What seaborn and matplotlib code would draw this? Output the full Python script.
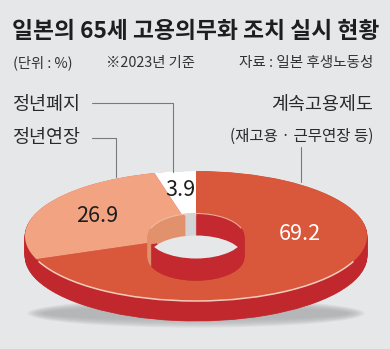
import matplotlib
matplotlib.use("Agg")
import matplotlib.pyplot as plt
from matplotlib.patches import Ellipse, Arc, Circle
import seaborn as sns

# ---- data -------------------------------------------------------------
categories = ["계속고용제도", "정년연장", "정년폐지"]
shares = [69.2, 26.9, 3.9]
value_labels = [f"{v:.1f}" for v in shares]

title = "일본의 65세 고용의무화 조치 실시 현황"
unit_note = "(단위 : %)"
base_note = "※2023년 기준"
source_note = "자료 : 일본 후생노동성"
sub_note = "(재고용 · 근무연장 등)"

# ---- style ------------------------------------------------------------
BG = "#e6e7e9"
face_colors = sns.color_palette(["#d9583b", "#f2a381", "#ffffff"])
wall_colors = sns.color_palette(["#c4292f", "#e2916d", "#d3d4d6"])
side_red = "#c1282e"

sns.set_theme(style="white", rc={"figure.facecolor": BG, "axes.facecolor": BG})
plt.rcParams["font.family"] = ["Noto Sans CJK KR", "DejaVu Sans"]

W, H = 390, 349
fig = plt.figure(figsize=(W / 100, H / 100), dpi=100)

# ---- donut body (unit circle squashed into a tilted ellipse) ----------
ax = fig.add_axes([0, 0, 1, 1])
cx, cy, rx, ry = 196, 236, 171, 65      # pixel centre and semi-axes
depth = 20 / ry                          # rim thickness in data units
pie_kw = dict(startangle=90, counterclock=False, frame=False)

# soft floor shadow
for i in range(9):
    ax.add_patch(Ellipse((0, -1.19), 1.97 - i * 0.025, 0.44 - i * 0.03,
                         facecolor="#a9aaac", edgecolor="none", alpha=0.14))

# extruded outer side: stacked red discs, lowest first
n_layers = 30
for k in range(n_layers, 0, -1):
    off = -depth * k / n_layers
    ax.pie(shares, colors=[side_red] * len(shares), center=(0, off), radius=1.0,
           wedgeprops=dict(linewidth=0.5, edgecolor=side_red), **pie_kw)

# top face
ax.pie(shares, colors=face_colors, center=(0, 0), radius=1.0,
       wedgeprops=dict(linewidth=0), **pie_kw)

# light highlight along the front edge of the face
ax.add_patch(Arc((0, 0), 2, 2, theta1=203, theta2=337,
                 color="#f8dccb", lw=1.1, alpha=0.9))

ax.set_aspect("auto")
ax.set_xlim((0 - cx) / rx, (W - cx) / rx)
ax.set_ylim((cy - H) / ry, cy / ry)
ax.axis("off")

# ---- centre hole with its inner wall ---------------------------------
hx = fig.add_axes([0, 0, 1, 1])
r_h = 48 / rx               # hole radius (x units)
ry_h = 22.5 / r_h           # vertical pixels per unit inside the hole
depth_h = 22 / ry_h
hole_clip = Circle((0, 0), r_h, transform=hx.transData)

n_wall = 44
for k in range(n_wall, -1, -1):
    off = -depth_h * k / n_wall
    wedges, _ = hx.pie(shares, colors=wall_colors, center=(0, off), radius=r_h,
                       wedgeprops=dict(width=0.03, linewidth=0.4), **pie_kw)
    for w, c in zip(wedges, wall_colors):
        w.set_edgecolor(c)
        w.set_clip_path(hole_clip)

floor = Circle((0, -depth_h), r_h, facecolor=BG, edgecolor="none")
hx.add_patch(floor)
floor.set_clip_path(hole_clip)
hx.add_patch(Arc((0, 0), 2 * r_h, 2 * r_h, theta1=20, theta2=160,
                 color="#f4c8b0", lw=0.8, alpha=0.8))

hx.set_aspect("auto")
hx.set_xlim((0 - cx) / rx, (W - cx) / rx)
hx.set_ylim((cy - H) / ry_h, cy / ry_h)
hx.axis("off")

# ---- text & leader lines in pixel coordinates ------------------------
tx = fig.add_axes([0, 0, 1, 1])
tx.set_xlim(0, W)
tx.set_ylim(H, 0)
tx.axis("off")

tx.text(12, 31, title, fontsize=16.4, fontweight="bold", color="#1e1e1e",
        ha="left", va="center")
tx.text(13, 63, unit_note, fontsize=10.3, color="#333333", ha="left", va="center")
tx.text(106, 63, base_note, fontsize=10.3, color="#333333", ha="left", va="center")
tx.text(373, 63, source_note, fontsize=10.5, color="#333333", ha="right", va="center")

lab_kw = dict(fontsize=13.3, color="#2a2a2a", va="center")
tx.text(12, 105, categories[2], ha="left", **lab_kw)
tx.text(12, 138, categories[1], ha="left", **lab_kw)
tx.text(373, 105, categories[0], ha="right", **lab_kw)
tx.text(373, 136, sub_note, ha="right", fontsize=11.2, color="#2a2a2a", va="center")

line_kw = dict(color="#7a7a7a", lw=0.8)
tx.plot([92, 173, 173], [103, 103, 172], **line_kw)
tx.plot([92, 116, 116], [138, 138, 177], **line_kw)
tx.plot([301, 301], [147, 182], **line_kw)

val_kw = dict(fontsize=15.5, ha="center", va="center")
tx.text(300, 234, value_labels[0], color="white", **val_kw)
tx.text(97, 216, value_labels[1], color="#1e1e1e", **val_kw)
tx.text(180, 190, value_labels[2], color="#1e1e1e", **val_kw)

fig.savefig("out.png", dpi=100, facecolor=BG)
